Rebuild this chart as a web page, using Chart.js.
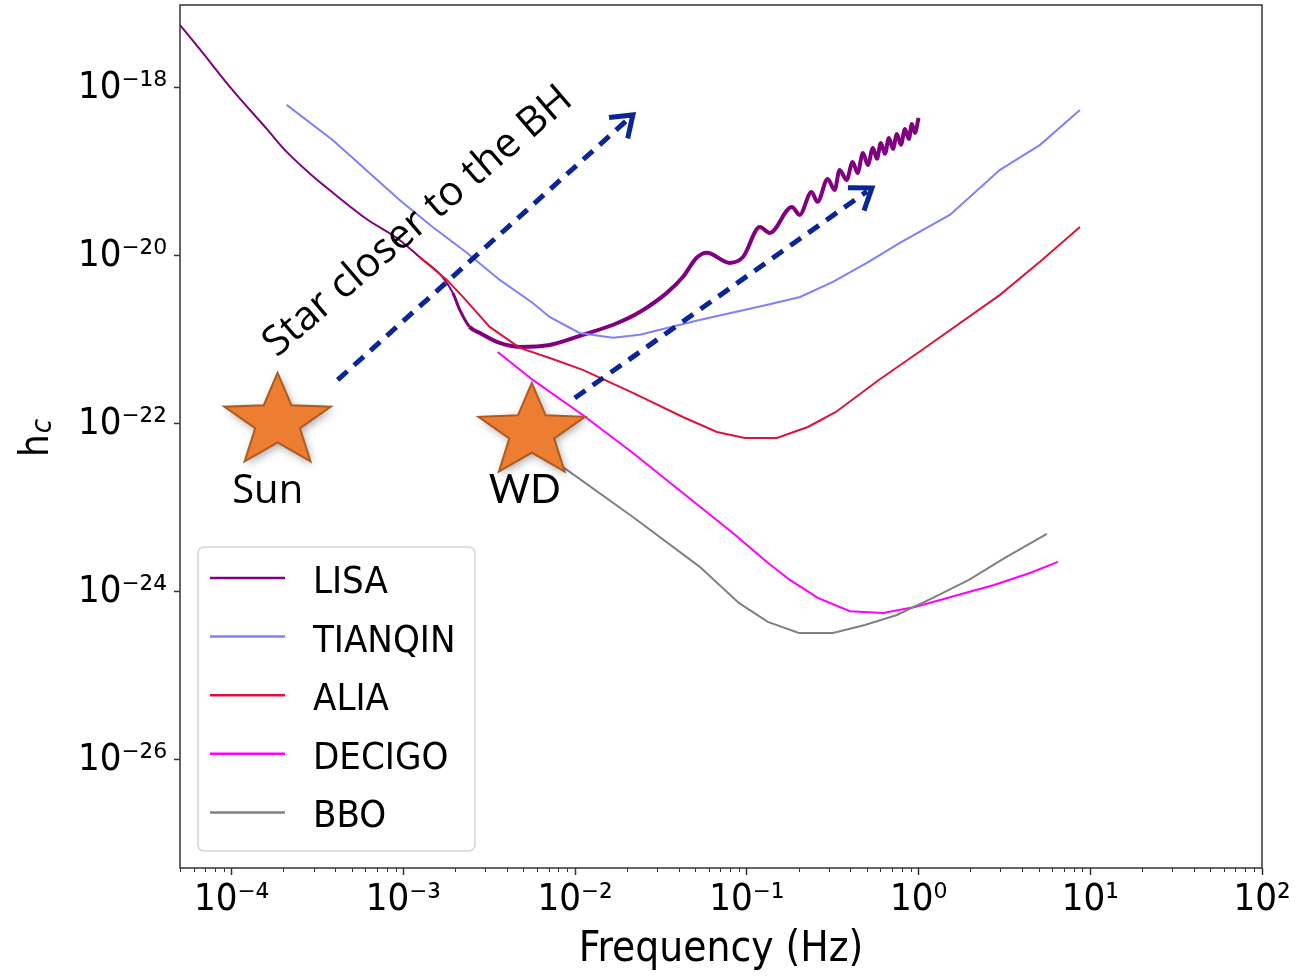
<!DOCTYPE html>
<html><head><meta charset="utf-8">
<script src="https://cdn.jsdelivr.net/npm/chart.js@4.4.1/dist/chart.umd.min.js"></script>
<style>html,body{margin:0;padding:0;background:#fff;} #wrap{width:1296px;height:976px;position:relative;}</style>
</head><body><div id="wrap"><canvas id="c"></canvas></div>
<script>
// ---------------- DATA ----------------
const lisaFreq = [5.0e-5, 6.5e-5, 1.01e-4, 1.6e-4, 2.09e-4, 2.96e-4, 3.9e-4, 6.1e-4, 9.5e-4, 1.24e-3, 1.69e-3, 1.94e-3, 2.13e-3, 2.43e-3, 2.79e-3, 3.64e-3, 4.76e-3, 7.1e-3, 1.11e-2, 1.75e-2, 2.38e-2, 3.42e-2, 4.24e-2, 5.1e-2, 5.85e-2, 7.96e-2, 9.5e-2, 0.119, 0.136, 0.183, 0.203, 0.238, 0.258, 0.2955, 0.3245, 0.347, 0.381, 0.413, 0.4417, 0.474, 0.507, 0.542, 0.572, 0.603, 0.637, 0.672, 0.709, 0.748, 0.789, 0.833, 0.878, 0.914, 0.952, 1.0];
const lisaHc = [5.6e-18, 2.91e-18, 9.47e-19, 3.25e-19, 1.73e-19, 8.96e-20, 5.62e-20, 2.75e-20, 1.55e-20, 9.7e-21, 5.6e-21, 3.63e-21, 2.28e-21, 1.43e-21, 1.21e-21, 9.2e-22, 8.26e-22, 8.7e-22, 1.15e-21, 1.58e-21, 2.15e-21, 3.63e-21, 5.6e-21, 9.5e-21, 1.09e-20, 8.26e-21, 9.7e-21, 2.21e-20, 1.88e-20, 3.83e-20, 3.08e-20, 5.78e-20, 4.4e-20, 8.26e-20, 6.1e-20, 1.057e-19, 8.03e-20, 1.315e-19, 9.7e-20, 1.68e-19, 1.21e-19, 1.93e-19, 1.43e-19, 2.21e-19, 1.64e-19, 2.54e-19, 1.88e-19, 2.83e-19, 2.1e-19, 3.25e-19, 2.47e-19, 3.73e-19, 2.91e-19, 4.4e-19];

const tianqinFreq = [2.09e-4, 3.87e-4, 9.5e-4, 1.48e-3, 2.34e-3, 3.64e-3, 5.67e-3, 7.1e-3, 1.06e-2, 1.66e-2, 2.38e-2, 5.3e-2, 0.13, 0.204, 0.317, 0.5, 0.778, 1.52, 2.98, 5.1, 8.7];
const tianqinHc = [6.28e-19, 2.4e-19, 4.64e-20, 2.21e-20, 1.09e-20, 5.18e-21, 2.75e-21, 1.88e-21, 1.21e-21, 1.06e-21, 1.15e-21, 1.73e-21, 2.61e-21, 3.25e-21, 4.9e-21, 8.26e-21, 1.43e-20, 3.08e-20, 1.06e-19, 2.1e-19, 5.47e-19];

const aliaFreq = [1.24e-3, 1.79e-3, 2.22e-3, 3.18e-3, 4.76e-3, 7.12e-3, 1.108e-2, 2.17e-2, 4.24e-2, 6.69e-2, 9.73e-2, 0.1495, 0.2266, 0.33, 0.587, 1.046, 2.98, 5.09, 8.71];
const aliaHc = [9.7e-21, 5.18e-21, 3.25e-21, 1.43e-21, 8.03e-22, 6.1e-22, 4.4e-22, 2.34e-22, 1.21e-22, 8.03e-23, 6.8e-23, 6.8e-23, 9.2e-23, 1.39e-22, 3.34e-22, 7.6e-22, 3.44e-21, 8.5e-21, 2.21e-20];

const decigoFreq = [3.54e-3, 5.67e-3, 1.108e-2, 2.17e-2, 4.24e-2, 8.29e-2, 0.1308, 0.178, 0.259, 0.398, 0.62, 0.952, 1.54, 2.75, 4.45, 6.48];
const decigoHc = [7.2e-22, 3.34e-22, 1.28e-22, 4.52e-23, 1.51e-23, 5.04e-24, 2.27e-24, 1.39e-24, 8.5e-25, 5.9e-25, 5.62e-25, 6.63e-25, 8.7e-25, 1.21e-24, 1.68e-24, 2.28e-24];

const bboFreq = [4.45e-3, 8.47e-3, 2.17e-2, 5.32e-2, 8.98e-2, 0.1325, 0.201, 0.317, 0.487, 0.748, 1.212, 1.965, 3.18, 5.59];
const bboHc = [8.5e-23, 3.08e-23, 7.8e-24, 1.99e-24, 7.4e-25, 4.4e-25, 3.25e-25, 3.25e-25, 4.05e-25, 5.32e-25, 8.5e-25, 1.39e-24, 2.54e-24, 4.9e-24];

const seriesLabels = ['LISA', 'TIANQIN', 'ALIA', 'DECIGO', 'BBO'];
const seriesColors = ['#800080', '#7f7fff', '#dc143c', '#ff00ff', '#808080'];

const xTickValues = [1e-4, 1e-3, 1e-2, 1e-1, 1e0, 1e1, 1e2];
const xTickLabels = ['10\u207B\u2074', '10\u207B\u00B3', '10\u207B\u00B2', '10\u207B\u00B9', '10\u2070', '10\u00B9', '10\u00B2'];
const yTickValues = [1e-26, 1e-24, 1e-22, 1e-20, 1e-18];
const yTickLabels = ['10\u207B\u00B2\u2076', '10\u207B\u00B2\u2074', '10\u207B\u00B2\u00B2', '10\u207B\u00B2\u2070', '10\u207B\u00B9\u2078'];

const xTitle = 'Frequency (Hz)';
// annotations in data coordinates
const annotationTexts = [
  {text: 'Star closer to the BH', f: 1.83e-4, h: 6.1e-22, angle: -40.6, align: 'left', font: '41px "Open Sans", "Noto Sans", sans-serif'},
  {text: 'Sun', f: 1.62e-4, h: 1.15e-23, angle: 0, align: 'center', font: '40px "Open Sans", "Noto Sans", sans-serif'},
  {text: 'WD', f: 5.09e-3, h: 1.15e-23, angle: 0, align: 'center', font: '40px Lato, "Open Sans", sans-serif'}
];
const starMarks = [{f: 1.85e-4, h: 1.06e-22}, {f: 5.59e-3, h: 8.03e-23}];
const arrowMarks = [
  {f0: 4.14e-4, h0: 3.34e-22, f1: 2.17e-2, h1: 4.77e-19},
  {f0: 9.95e-3, h0: 2.04e-22, f1: 0.535, h1: 6.45e-20}
];

// ---------------- CHART ----------------
const zip = (xs, ys) => xs.map((x, i) => ({x: x, y: ys[i]}));
const TICK_FONT = '"DejaVu Sans Condensed", "DejaVu Sans", sans-serif';

const datasets = [
  {label: seriesLabels[0], data: zip(lisaFreq, lisaHc), borderColor: seriesColors[0], borderWidth: 2,
   cubicInterpolationMode: 'monotone', order: 5,
   segment: {borderWidth: c => (c.p0.parsed.x >= 2.4e-3 ? 4 : (c.p0.parsed.x >= 1.9e-3 ? 3 : 2))}},
  {label: seriesLabels[1], data: zip(tianqinFreq, tianqinHc), borderColor: seriesColors[1], borderWidth: 2, tension: 0, order: 4},
  {label: seriesLabels[2], data: zip(aliaFreq, aliaHc), borderColor: seriesColors[2], borderWidth: 2, tension: 0, order: 3},
  {label: seriesLabels[3], data: zip(decigoFreq, decigoHc), borderColor: seriesColors[3], borderWidth: 2, tension: 0, order: 2},
  {label: seriesLabels[4], data: zip(bboFreq, bboHc), borderColor: seriesColors[4], borderWidth: 2, tension: 0, order: 1}
];

function drawStar(ctx, cx, cy, Rx, Ry) {
  const k = 0.42;
  ctx.beginPath();
  for (let i = 0; i < 10; i++) {
    const a = -Math.PI / 2 + i * Math.PI / 5;
    const s = i % 2 === 0 ? 1 : k;
    const x = cx + s * Rx * Math.cos(a), y = cy + s * Ry * Math.sin(a);
    if (i === 0) ctx.moveTo(x, y); else ctx.lineTo(x, y);
  }
  ctx.closePath();
  ctx.save();
  ctx.shadowColor = 'rgba(0,0,0,0.35)';
  ctx.shadowBlur = 8; ctx.shadowOffsetX = 2; ctx.shadowOffsetY = 3;
  ctx.fillStyle = '#ED7D31';
  ctx.fill();
  ctx.restore();
  ctx.lineWidth = 2; ctx.strokeStyle = '#AE5A21'; ctx.lineJoin = 'miter';
  ctx.stroke();
}

function drawArrow(ctx, x0, y0, x1, y1) {
  const a = Math.atan2(y1 - y0, x1 - x0);
  ctx.save();
  ctx.strokeStyle = '#0a2596';
  ctx.lineWidth = 5;
  ctx.lineCap = 'butt';
  ctx.setLineDash([13, 9]);
  ctx.beginPath();
  ctx.moveTo(x0, y0);
  ctx.lineTo(x1 - 6 * Math.cos(a), y1 - 6 * Math.sin(a));
  ctx.stroke();
  ctx.setLineDash([]);
  const L = 24, sp = 0.62;
  ctx.lineJoin = 'miter';
  ctx.beginPath();
  ctx.moveTo(x1 - L * Math.cos(a - sp), y1 - L * Math.sin(a - sp));
  ctx.lineTo(x1, y1);
  ctx.lineTo(x1 - L * Math.cos(a + sp), y1 - L * Math.sin(a + sp));
  ctx.stroke();
  ctx.restore();
}

const overlay = {
  id: 'overlay',
  afterDatasetsDraw(chart) {
    const ctx = chart.ctx, xs = chart.scales.x, ys = chart.scales.y;
    const P = (f, h) => [xs.getPixelForValue(f), ys.getPixelForValue(h)];
    ctx.save();
    arrowMarks.forEach(m => {
      const [x0, y0] = P(m.f0, m.h0), [x1, y1] = P(m.f1, m.h1);
      drawArrow(ctx, x0, y0, x1, y1);
    });
    starMarks.forEach(s => { const [x, y] = P(s.f, s.h); drawStar(ctx, x, y, 56, 49); });
    annotationTexts.forEach(t => {
      const [x, y] = P(t.f, t.h);
      ctx.save();
      ctx.translate(x, y);
      ctx.rotate(t.angle * Math.PI / 180);
      ctx.font = t.font; ctx.fillStyle = '#000';
      ctx.textAlign = t.align; ctx.textBaseline = 'alphabetic';
      ctx.fillText(t.text, 0, 0);
      ctx.restore();
    });
    ctx.restore();
  },
  afterDraw(chart) {
    const ctx = chart.ctx, a = chart.chartArea, xs = chart.scales.x;
    ctx.save();
    // minor x ticks
    ctx.strokeStyle = '#333'; ctx.lineWidth = 1;
    for (let n = -5; n <= 1; n++) {
      for (let k = 2; k <= 9; k++) {
        const v = k * Math.pow(10, n);
        if (v < xs.min || v > xs.max) continue;
        const x = Math.round(xs.getPixelForValue(v)) + 0.5;
        ctx.beginPath(); ctx.moveTo(x, a.bottom); ctx.lineTo(x, a.bottom + 4); ctx.stroke();
      }
    }
    // frame
    ctx.strokeStyle = '#333'; ctx.lineWidth = 1.5;
    ctx.strokeRect(a.left, a.top, a.right - a.left, a.bottom - a.top);
    // legend
    const lx = 198, ly = 547, lw = 277, lh = 304, rad = 7;
    ctx.beginPath();
    ctx.moveTo(lx + rad, ly); ctx.lineTo(lx + lw - rad, ly); ctx.quadraticCurveTo(lx + lw, ly, lx + lw, ly + rad);
    ctx.lineTo(lx + lw, ly + lh - rad); ctx.quadraticCurveTo(lx + lw, ly + lh, lx + lw - rad, ly + lh);
    ctx.lineTo(lx + rad, ly + lh); ctx.quadraticCurveTo(lx, ly + lh, lx, ly + lh - rad);
    ctx.lineTo(lx, ly + rad); ctx.quadraticCurveTo(lx, ly, lx + rad, ly);
    ctx.closePath();
    ctx.fillStyle = 'rgba(255,255,255,0.85)'; ctx.fill();
    ctx.strokeStyle = '#d6d6d6'; ctx.lineWidth = 1.5; ctx.stroke();
    ctx.font = '38px ' + TICK_FONT; ctx.textAlign = 'left'; ctx.textBaseline = 'alphabetic';
    chart.data.datasets.forEach((ds, i) => {
      const y = 578 + i * 58.6;
      ctx.strokeStyle = ds.borderColor; ctx.lineWidth = 2.5;
      ctx.beginPath(); ctx.moveTo(210, y); ctx.lineTo(285, y); ctx.stroke();
      ctx.fillStyle = '#000';
      ctx.fillText(ds.label, 313, y + 15);
    });
    // y-axis title h_c
    ctx.save();
    ctx.translate(48, 444); ctx.rotate(-Math.PI / 2);
    ctx.fillStyle = '#000';
    ctx.font = '40px ' + TICK_FONT;
    ctx.fillText('h', -13, 0);
    const hw = ctx.measureText('h').width;
    ctx.font = 'italic 29px ' + TICK_FONT;
    ctx.fillText('c', -13 + hw + 1, 3);
    ctx.restore();
    ctx.restore();
  }
};

new Chart(document.getElementById('c'), {
  type: 'line',
  data: {datasets: datasets},
  options: {
    responsive: true, maintainAspectRatio: false, animation: false,
    parsing: true, normalized: true,
    layout: {padding: {left: 0, right: 34, top: 5, bottom: 0}},
    elements: {point: {radius: 0, hoverRadius: 0}, line: {fill: false}},
    plugins: {legend: {display: false}, tooltip: {enabled: false}},
    scales: {
      x: {
        type: 'logarithmic', min: 5e-5, max: 100,
        afterBuildTicks: s => { s.ticks = xTickValues.map(v => ({value: v, major: true})); },
        afterFit: s => { s.height = 108; s.paddingLeft = 0; s.paddingRight = 0; s.paddingTop = 0; s.paddingBottom = 0; },
        border: {display: false},
        grid: {display: true, drawOnChartArea: false, drawTicks: true, tickLength: 7, tickColor: '#333', tickWidth: 1.5},
        ticks: {autoSkip: false, maxRotation: 0, padding: 2, color: '#000',
                font: {family: TICK_FONT, size: 38},
                callback: (v, i) => xTickLabels[xTickValues.indexOf(v)] ?? xTickLabels[i]},
        title: {display: true, text: xTitle, color: '#000', font: {family: TICK_FONT, size: 42}, padding: {top: 0, bottom: 1}}
      },
      y: {
        type: 'logarithmic', min: 5.18e-28, max: 9.7e-18,
        afterBuildTicks: s => { s.ticks = yTickValues.map(v => ({value: v, major: true})); },
        afterFit: s => { s.width = 180; s.paddingTop = 0; s.paddingBottom = 0; s.paddingLeft = 0; s.paddingRight = 0; },
        border: {display: false},
        grid: {display: true, drawOnChartArea: false, drawTicks: true, tickLength: 6, tickColor: '#333', tickWidth: 1.5},
        ticks: {autoSkip: false, padding: 7, color: '#000',
                font: {family: TICK_FONT, size: 38},
                callback: (v, i) => yTickLabels[yTickValues.indexOf(v)] ?? yTickLabels[i]},
        title: {display: false}
      }
    }
  },
  plugins: [overlay]
});
</script></body></html>
